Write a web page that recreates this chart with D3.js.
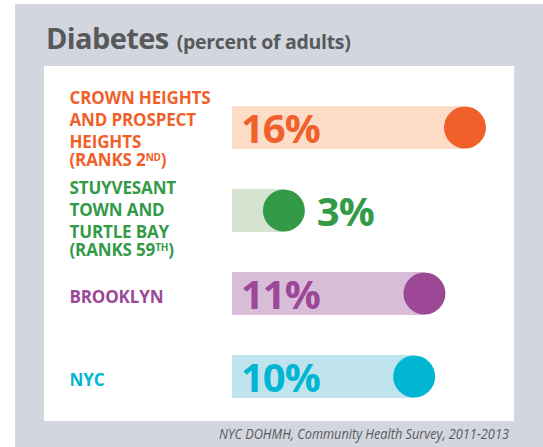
<!DOCTYPE html>
<html>
<head>
<meta charset="utf-8">
<script src="https://cdn.jsdelivr.net/npm/d3@7"></script>
<style>
  html, body { margin: 0; padding: 0; background: #ffffff; }
  svg { display: block; }
</style>
</head>
<body>
<svg id="chart" width="543" height="447"></svg>
<script>
// ---- data ----
const categories = ["CROWN HEIGHTS AND PROSPECT HEIGHTS", "STUYVESANT TOWN AND TURTLE BAY", "BROOKLYN", "NYC"];
const labelLines = [["CROWN HEIGHTS", "AND PROSPECT", "HEIGHTS"], ["STUYVESANT", "TOWN AND", "TURTLE BAY"], ["BROOKLYN"], ["NYC"]];
const rankNumbers = ["2", "59", null, null];
const rankSuffixes = ["ND", "TH", null, null];
const values = [16, 3, 11, 10];
const valueLabels = ["16%", "3%", "11%", "10%"];
const title = "Diabetes";
const subtitle = "(percent of adults)";
const source = "NYC DOHMH, Community Health Survey, 2011-2013";

// ---- styles ----
const darkColors = ["#f15f2a", "#339a48", "#9c4897", "#00b6d2"];
const lightColors = ["#fddcc8", "#d5e3d1", "#d8bdd9", "#c0e4ee"];
const font = "'Open Sans', 'DejaVu Sans', sans-serif";

const svg = d3.select("#chart");

// backgrounds
svg.append("rect").attr("x", 15).attr("y", 4).attr("width", 528).attr("height", 443).attr("fill", "#d3d6de");
svg.append("rect").attr("x", 44).attr("y", 66).attr("width", 470).attr("height", 355).attr("fill", "#ffffff");

// title
const t = svg.append("text").attr("x", 46).attr("y", 48.5)
  .attr("font-family", font).attr("font-weight", 700).attr("fill", "#58595b");
t.append("tspan").attr("font-size", 29).attr("letter-spacing", -0.6).text(title);
t.append("tspan").attr("font-size", 19.5).attr("dx", 8).attr("letter-spacing", -0.3).text(subtitle);

// scales
const barLeft = 232;
const barH = 43;
const r = 21;
const x = d3.scaleLog().domain([1, 16]).range([165, 465]);
const y = d3.scalePoint().domain(categories).range([127.5, 376.5]);

const rows = svg.selectAll("g.row").data(categories).join("g").attr("class", "row");

rows.append("rect")
  .attr("x", barLeft)
  .attr("y", d => y(d) - barH / 2)
  .attr("width", (d, i) => x(values[i]) - barLeft)
  .attr("height", barH)
  .attr("fill", (d, i) => lightColors[i]);

rows.append("circle")
  .attr("cx", (d, i) => x(values[i]))
  .attr("cy", d => y(d))
  .attr("r", r)
  .attr("fill", (d, i) => darkColors[i]);

// value labels
rows.append("text")
  .attr("font-family", font).attr("font-weight", 700).attr("font-size", 40)
  .attr("letter-spacing", -1)
  .attr("fill", (d, i) => darkColors[i])
  .attr("y", d => y(d) + 15)
  .text((d, i) => valueLabels[i])
  .each(function(d, i) {
    const w = this.getComputedTextLength();
    const inside = barLeft + 9 + w + 6 < x(values[i]) - r;
    d3.select(this).attr("x", inside ? barLeft + 9 : x(values[i]) + r + 12);
  });

// category labels
const lineH = 21.8;
rows.each(function(d, i) {
  const g = d3.select(this);
  const lines = labelLines[i].slice();
  const nLines = lines.length + (rankNumbers[i] ? 1 : 0);
  const capH = 12.2;
  const blockH = (nLines - 1) * lineH + capH;
  const top = y(d) - blockH / 2 + 3 + (i === 1 ? 7 : 0);
  const txt = g.append("text")
    .attr("font-family", font).attr("font-weight", 700).attr("font-size", 17)
    .attr("letter-spacing", -0.15)
    .attr("fill", darkColors[i]);
  lines.forEach((ln, k) => {
    txt.append("tspan").attr("x", 69.5).attr("y", top + capH + k * lineH).text(ln);
  });
  if (rankNumbers[i]) {
    const yy = top + capH + (lines.length - 1) * lineH + 18.5;
    txt.append("tspan").attr("x", 69.5).attr("y", yy).text("(RANKS " + rankNumbers[i]);
    txt.append("tspan").attr("font-size", 10).attr("dy", -5).text(rankSuffixes[i]);
    txt.append("tspan").attr("dy", 5).text(")");
  }
});

// source (condensed italic, squeezed horizontally to match width)
const src = svg.append("text")
  .attr("font-family", font).attr("font-style", "italic").attr("font-size", 15)
  .attr("fill", "#5a5b5e")
  .text(source);
const natW = src.node().getComputedTextLength();
src.attr("transform", `translate(219,439) scale(${290 / natW},1)`);
</script>
</body>
</html>
